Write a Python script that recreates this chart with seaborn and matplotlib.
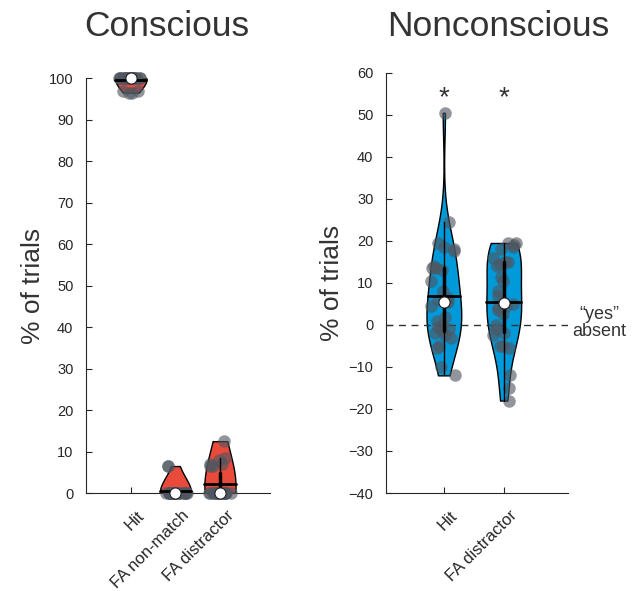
import numpy as np
import pandas as pd
import seaborn as sns
import matplotlib.pyplot as plt
from matplotlib.transforms import ScaledTranslation

sns.set_style("white")
plt.rcParams["font.family"] = ["Liberation Sans", "DejaVu Sans"]

# ---- data (% of trials, one value per participant) ----
con_cats = ["Hit", "FA non-match", "FA distractor"]
con_hit = [100, 100, 100, 100, 100, 100, 100, 100, 100, 100, 100, 100, 100,
           100, 100, 100, 100, 100, 100, 100, 100, 100, 96.5, 97, 96.5, 97]
con_fa_nonmatch = [0, 0, 0, 0, 0, 0, 0, 0, 0, 0, 0, 0, 0, 0, 0, 0, 0, 0, 0, 0,
                   0, 0, 0, 0, 6.5, 6.5]
con_fa_distractor = [0, 0, 0, 0, 0, 0, 0, 0, 0, 0, 0, 0, 0, 0, 0, 0, 0, 0, 0,
                     12.5, 8.5, 8, 7, 7, 6.5, 6.5]

non_cats = ["Hit", "FA distractor"]
non_hit = [50.5, 24.5, 19.5, 18.5, 18, 17.5, 14, 13.5, 13.5, 13, 10.5, 8, 6.5,
           6, 5.5, 5.5, 4.5, 2, 1, 0, -0.5, -1, -1.5, -2, -2.5, -3, -5, -5.5,
           -10, -12]
non_fa_distractor = [19.5, 19.5, 19, 18.5, 18, 16, 15, 15, 14.5, 14, 11.5,
                     10.5, 8, 7, 5.5, 5, 4.5, 4, 3.5, 2.5, 0, -1, -2, -2.5,
                     -5, -5, -5.5, -12, -15, -18]

red = "#E84B3C"
blue = "#0099DA"
dot_col = "#4F5660"
txt_col = "#333333"

con = pd.DataFrame({
    "cond": ["Hit"] * len(con_hit) + ["FA non-match"] * len(con_fa_nonmatch)
            + ["FA distractor"] * len(con_fa_distractor),
    "pct": con_hit + con_fa_nonmatch + con_fa_distractor})
non = pd.DataFrame({
    "cond": ["Hit"] * len(non_hit) + ["FA distractor"] * len(non_fa_distractor),
    "pct": non_hit + non_fa_distractor})

fig = plt.figure(figsize=(6.41, 5.91), dpi=100)
ax1 = fig.add_axes([0.134, 0.1658, 0.287, 0.702])
ax2 = fig.add_axes([0.602, 0.1658, 0.284, 0.711])


def draw_panel(ax, df, cats, color, bw, width, jit):
    sns.violinplot(data=df, x="cond", y="pct", order=cats, color=color,
                   saturation=1, cut=0, inner=None, width=width,
                   density_norm="width", bw_adjust=bw, linecolor="black",
                   linewidth=1, ax=ax)
    violins = list(ax.collections[:len(cats)])
    np.random.seed(3)
    sns.stripplot(data=df, x="cond", y="pct", order=cats, color=dot_col,
                  alpha=0.62, size=9, jitter=jit, linewidth=0, ax=ax,
                  zorder=3)
    for coll in ax.collections[len(cats):]:
        coll.set_clip_on(False)
    for i, c in enumerate(cats):
        vals = df.loc[df["cond"] == c, "pct"].to_numpy()
        q1, med, q3 = np.percentile(vals, [25, 50, 75])
        iqr = q3 - q1
        lo = vals[vals >= q1 - 1.5 * iqr].min()
        hi = vals[vals <= q3 + 1.5 * iqr].max()
        ax.plot([i, i], [lo, hi], color="black", lw=1, zorder=4)
        ax.plot([i, i], [q1, q3], color="black", lw=2.5, zorder=4)
        # half width of the violin at the mean
        verts = violins[i].get_paths()[0].vertices
        right = verts[verts[:, 0] > i + 1e-6]
        right = right[np.argsort(right[:, 1])]
        mean = vals.mean()
        half = np.interp(mean, right[:, 1], right[:, 0]) - i
        ax.plot([i - half, i + half], [mean, mean], color="black", lw=2,
                zorder=4, clip_on=False)
        ax.plot(i, med, "o", ms=8, mfc="white", mec="#222222", mew=0.8,
                zorder=5, clip_on=False)


draw_panel(ax1, con, con_cats, red, 4.0, 0.7, 0.27)
draw_panel(ax2, non, non_cats, blue, 1.0, 0.58, 0.22)

ax1.set_xlim(-1.01, 3.12)
ax1.set_ylim(0, 100)
ax1.set_yticks(np.arange(0, 101, 10))
ax2.set_xlim(-0.967, 2.07)
ax2.set_ylim(-40, 60)
ax2.set_yticks(np.arange(-40, 61, 10))

ax2.axhline(0, color="#333333", lw=1, ls=(0, (5, 4)), zorder=1)
for i in range(len(non_cats)):
    ax2.text(i, 54, "*", ha="center", va="center", fontsize=20,
             color=txt_col)
ax2.text(1.173, 0.405, "\u201cyes\u201d\nabsent", transform=ax2.transAxes,
         ha="center", va="center", fontsize=13, color=txt_col,
         linespacing=0.95, clip_on=False)

shift = ScaledTranslation(6 / 100, -4 / 100, fig.dpi_scale_trans)
for ax in (ax1, ax2):
    sns.despine(ax=ax)
    for s in ("left", "bottom"):
        ax.spines[s].set_color("#262626")
        ax.spines[s].set_linewidth(0.8)
    ax.tick_params(direction="in", length=4, width=0.8, colors="#262626",
                   labelsize=10.5, left=True, bottom=True)
    ax.tick_params(axis="x", pad=8)
    ax.tick_params(axis="y", pad=9)
    ax.set_xlabel("")
    ax.set_ylabel("% of trials", fontsize=19, color=txt_col, labelpad=3)
    for lab in ax.get_xticklabels():
        lab.set_rotation(45)
        lab.set_ha("right")
        lab.set_rotation_mode("anchor")
        lab.set_fontsize(12)
        lab.set_transform(lab.get_transform() + shift)

fig.text(0.261, 0.955, "Conscious", ha="center", va="center", fontsize=25.5,
         color=txt_col)
fig.text(0.777, 0.955, "Nonconscious", ha="center", va="center",
         fontsize=25.5, color=txt_col)

fig.savefig("out.png", dpi=100)
